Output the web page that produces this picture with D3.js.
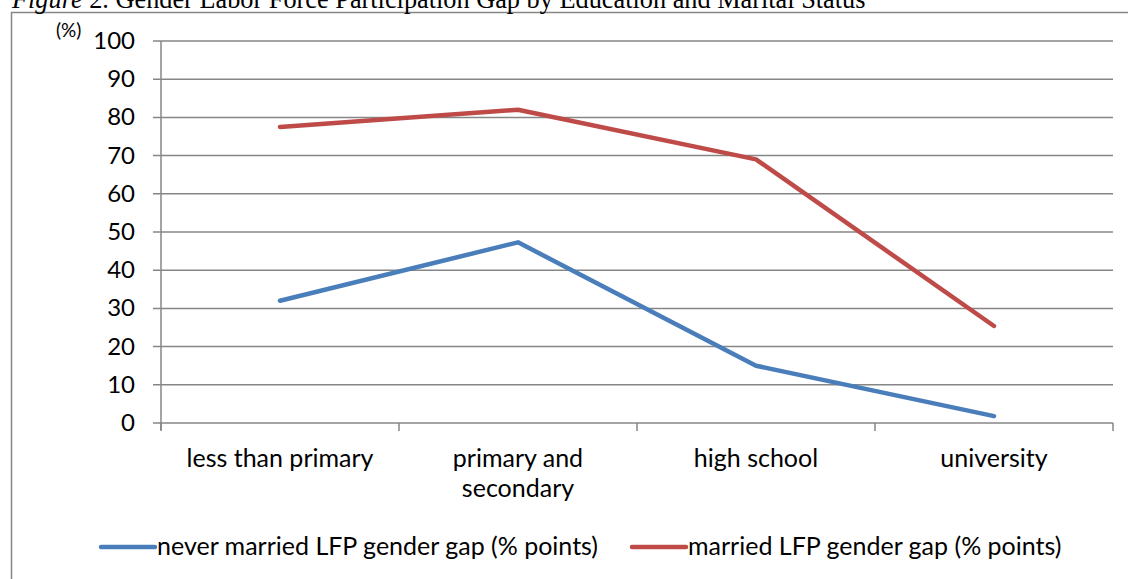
<!DOCTYPE html>
<html>
<head>
<meta charset="utf-8">
<script src="https://cdn.jsdelivr.net/npm/d3@7"></script>
<style>
body { margin: 0; background: #fff; }
svg { display: block; }
</style>
</head>
<body>
<div id="chart"></div>
<script>
//////////////////////////////////////////////////////////////////////////////
// data

var categories = [["less than primary"], ["primary and", "secondary"], ["high school"], ["university"]];
var neverMarried = [32, 47.3, 15, 1.8];
var married = [77.5, 82, 69, 25.4];
var yTicks = [0, 10, 20, 30, 40, 50, 60, 70, 80, 90, 100];
var seriesNames = ["never married LFP gender gap (% points)", "married LFP gender gap (% points)"];
var seriesColors = ["#4a7ebb", "#be4b48"];

var width = 1128, height = 579;
var plotLeft = 161, plotRight = 1113, plotTop = 41, plotBottom = 423;
var font = "Lato, 'Open Sans', sans-serif";
var fontSize = 25;

var xBand = d3.scaleBand().domain(d3.range(categories.length)).range([plotLeft, plotRight]);
var yScale = d3.scaleLinear().domain([0, 100]).range([plotBottom, plotTop]);

var svg = d3.select("#chart")
    .append("svg")
    .attr("width", width)
    .attr("height", height);

// outer frame
svg.append("rect")
    .attr("x", 11.5).attr("y", 12.5)
    .attr("width", 1130).attr("height", 600)
    .attr("fill", "none")
    .attr("stroke", "#868686")
    .attr("stroke-width", 1.5);

// title (cut off at the top, as in the source)
var title = svg.append("text")
    .attr("x", 12).attr("y", 8)
    .attr("font-family", "'Liberation Serif', 'Times New Roman', serif")
    .attr("font-size", 26.3)
    .attr("fill", "#000");
title.append("tspan").attr("font-style", "italic").text("Figure");
title.append("tspan").text(" 2. Gender Labor Force Participation Gap by Education and Marital Status");

//////////////////////////////////////////////////////////////////////////////
// axes

var gy = svg.append("g");
gy.selectAll("line")
    .data(yTicks)
    .enter()
    .append("line")
    .attr("x1", plotLeft - 8).attr("x2", plotRight)
    .attr("y1", function(d) { return yScale(d); })
    .attr("y2", function(d) { return yScale(d); })
    .attr("stroke", "#868686")
    .attr("stroke-width", 1.5);
gy.selectAll("text")
    .data(yTicks)
    .enter()
    .append("text")
    .attr("x", plotLeft - 26)
    .attr("y", function(d) { return yScale(d) + 8; })
    .attr("text-anchor", "end")
    .attr("font-family", font)
    .attr("font-size", 24)
    .attr("fill", "#000")
    .text(function(d) { return d; });

// y axis line
svg.append("line")
    .attr("x1", plotLeft).attr("x2", plotLeft)
    .attr("y1", plotTop).attr("y2", plotBottom + 7)
    .attr("stroke", "#868686").attr("stroke-width", 1.5);

// x axis ticks at category boundaries
svg.append("g")
    .selectAll("line")
    .data(d3.range(categories.length + 1))
    .enter()
    .append("line")
    .attr("x1", function(d) { return d < categories.length ? xBand(d) : plotRight; })
    .attr("x2", function(d) { return d < categories.length ? xBand(d) : plotRight; })
    .attr("y1", plotBottom).attr("y2", plotBottom + 8)
    .attr("stroke", "#868686").attr("stroke-width", 1.5);

// category labels
var cat = svg.append("g")
    .selectAll("text")
    .data(categories)
    .enter()
    .append("text")
    .attr("x", function(d, i) { return xBand(i) + xBand.bandwidth() / 2; })
    .attr("y", 467)
    .attr("text-anchor", "middle")
    .attr("font-family", font)
    .attr("font-size", fontSize)
    .attr("fill", "#000");
cat.selectAll("tspan")
    .data(function(d) { return d; })
    .enter()
    .append("tspan")
    .attr("x", function() { return d3.select(this.parentNode).attr("x"); })
    .attr("dy", function(d, i) { return i === 0 ? 0 : 30; })
    .text(function(d) { return d; });

// unit label
svg.append("text")
    .attr("x", 56).attr("y", 37)
    .attr("font-family", font)
    .attr("font-size", 19)
    .attr("fill", "#000")
    .text("(%)");

//////////////////////////////////////////////////////////////////////////////
// lines

var line = d3.line()
    .x(function(d, i) { return xBand(i) + xBand.bandwidth() / 2; })
    .y(function(d) { return yScale(d); });

svg.append("g")
    .selectAll("path")
    .data([neverMarried, married])
    .enter()
    .append("path")
    .attr("d", line)
    .attr("fill", "none")
    .attr("stroke", function(d, i) { return seriesColors[i]; })
    .attr("stroke-width", 4.5)
    .attr("stroke-linecap", "round")
    .attr("stroke-linejoin", "round");

//////////////////////////////////////////////////////////////////////////////
// legend

var legendX = [101, 632];
var legend = svg.append("g")
    .selectAll("g")
    .data(seriesNames)
    .enter()
    .append("g")
    .attr("transform", function(d, i) { return "translate(" + legendX[i] + ",547)"; });

legend.append("line")
    .attr("x1", 0).attr("x2", 54)
    .attr("stroke", function(d, i) { return seriesColors[i]; })
    .attr("stroke-width", 4.5)
    .attr("stroke-linecap", "round");

legend.append("text")
    .attr("x", 56).attr("y", 8)
    .attr("font-family", font)
    .attr("font-size", fontSize)
    .attr("fill", "#000")
    .text(function(d) { return d; });
</script>
</body>
</html>
